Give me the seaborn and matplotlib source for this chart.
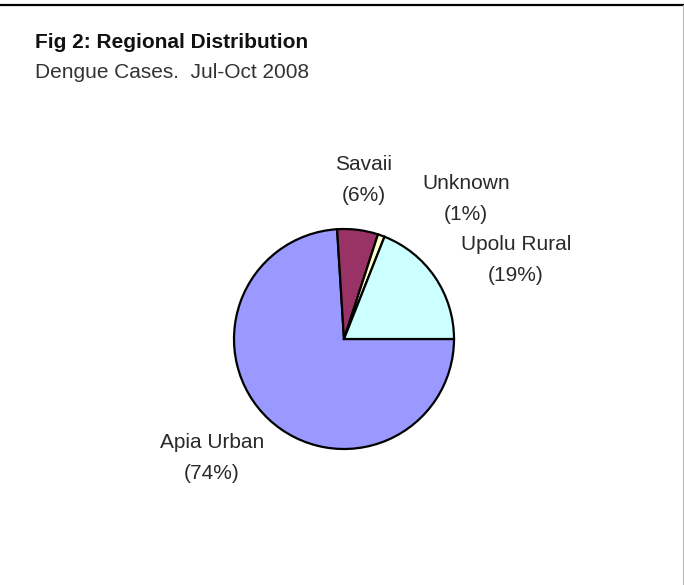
import matplotlib
matplotlib.use("Agg")
import matplotlib.pyplot as plt
from matplotlib.lines import Line2D
import seaborn as sns

# Dengue cases by region, Jul-Oct 2008 (percent of total)
regions = ["Apia Urban", "Savaii", "Unknown", "Upolu Rural"]
shares = [74, 6, 1, 19]
slice_colors = ["#9999FF", "#993366", "#FFFFCC", "#CCFFFF"]

title = "Fig 2: Regional Distribution"
subtitle = "Dengue Cases.  Jul-Oct 2008"

sns.set_theme(style="white")
plt.rcParams["font.family"] = ["Liberation Sans", "DejaVu Sans"]

W, H = 684, 585
fig = plt.figure(figsize=(W / 100, H / 100), dpi=100)
fig.patch.set_facecolor("white")

# one axes spanning the figure, in pixel units (y measured from the bottom)
ax = fig.add_axes([0, 0, 1, 1])

palette = sns.color_palette(slice_colors)
ax.pie(
    shares,
    colors=palette,
    startangle=0,
    counterclock=False,
    center=(344, H - 339),
    radius=110,
    wedgeprops=dict(edgecolor="black", linewidth=1.6),
    frame=True,
)
ax.set_xlim(0, W)
ax.set_ylim(0, H)
ax.set_aspect("equal")
ax.axis("off")

# data labels with category name and share
label_pos = {
    "Apia Urban": (212, 458),
    "Savaii": (364, 180),
    "Unknown": (466, 199),
    "Upolu Rural": (516, 260),
}
for name, val in zip(regions, shares):
    x, y = label_pos[name]
    ax.text(x, H - y, f"{name}\n({val}%)", ha="center", va="center",
            fontsize=15, color="#2a2a2a", linespacing=1.75)

fig.text(35 / W, 1 - 43 / H, title, ha="left", va="center",
         fontsize=15, fontweight="bold", color="#111111")
fig.text(35 / W, 1 - 72 / H, subtitle, ha="left", va="center",
         fontsize=15, color="#333333")

# outer frame lines
fig.add_artist(Line2D([0, 1], [1 - 5 / H, 1 - 5 / H], transform=fig.transFigure,
                      color="black", linewidth=1.6))
fig.add_artist(Line2D([1 - 1.5 / W, 1 - 1.5 / W], [0, 1 - 5 / H], transform=fig.transFigure,
                      color="#bbbbbb", linewidth=0.8))

fig.savefig("out.png", dpi=100, facecolor="white")
